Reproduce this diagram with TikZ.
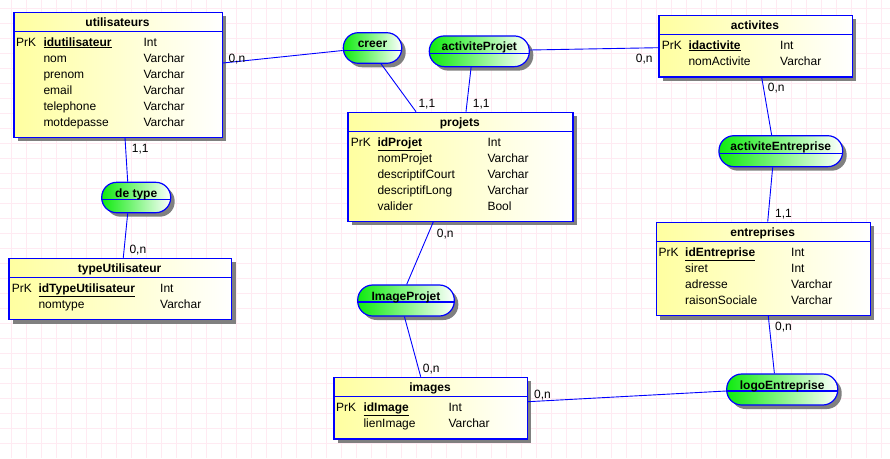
\documentclass[tikz,border=0pt]{standalone}
\usepackage{fontspec}
\setmainfont{Liberation Sans}
\usetikzlibrary{shadows,calc}
\definecolor{erblue}{RGB}{0,0,255}
\definecolor{gridpink}{RGB}{255,234,242}
\definecolor{ylw}{RGB}{255,255,160}
\definecolor{grn}{RGB}{15,235,15}
\definecolor{shd}{RGB}{128,128,128}
\tikzset{
  erbox/.style={draw=erblue, line width=1.2pt, left color=ylw, right color=white,
    anchor=north west, inner sep=0pt,
    drop shadow={shadow xshift=4pt, shadow yshift=-4pt, fill=shd, opacity=1}},
  assoc/.style={draw=erblue, line width=1.2pt, rounded corners=15pt, left color=grn,
    right color=white, inner sep=0pt,
    drop shadow={shadow xshift=4pt, shadow yshift=-4pt, fill=shd, opacity=1}},
  link/.style={draw=erblue, line width=0.9pt},
  sepline/.style={draw=erblue, line width=1.2pt},
  card/.style={anchor=base west, inner sep=0pt, font=\fontsize{12}{14}\selectfont},
  ttl/.style={anchor=base, inner sep=0pt, font=\bfseries\fontsize{12}{14}\selectfont},
  fld/.style={anchor=base west, inner sep=0pt, font=\fontsize{12}{14}\selectfont},
  asstxt/.style={anchor=base, inner sep=0pt, font=\bfseries\fontsize{12}{14}\selectfont},
}
\newcommand{\pk}[1]{\underline{\textbf{#1}}}
\begin{document}
\begin{tikzpicture}[x=1pt,y=-1pt]
\useasboundingbox (0,0) rectangle (890,458);
\fill[white] (0,0) rectangle (890,458);
% grid
\foreach \gx in {11.5,26.5,...,890} \draw[gridpink, line width=1pt] (\gx,0) -- (\gx,458);
\foreach \gy in {8.3,23.3,...,458} \draw[gridpink, line width=1pt] (0,\gy) -- (890,\gy);

% ---------- entities ----------
% utilisateurs
\node[erbox, minimum width=208.4pt, minimum height=125pt] (utilisateurs) at (13.3,11.7) {};
\draw[sepline] (13.3,31.7) -- (221.7,31.7);
\node[ttl] (utilisateurs-t) at (117.5,26.2) {utilisateurs};
\node[fld] (u-pk) at (16,46) {PrK};
\node[fld] (u-f1) at (43.3,46) {\pk{idutilisateur}};
\node[fld] (u-t1) at (143.3,46) {Int};
\node[fld] (u-f2) at (43.3,62) {nom};
\node[fld] (u-t2) at (143.3,62) {Varchar};
\node[fld] (u-f3) at (43.3,78) {prenom};
\node[fld] (u-t3) at (143.3,78) {Varchar};
\node[fld] (u-f4) at (43.3,94) {email};
\node[fld] (u-t4) at (143.3,94) {Varchar};
\node[fld] (u-f5) at (43.3,110) {telephone};
\node[fld] (u-t5) at (143.3,110) {Varchar};
\node[fld] (u-f6) at (43.3,126) {motdepasse};
\node[fld] (u-t6) at (143.3,126) {Varchar};

% activites
\node[erbox, minimum width=193.4pt, minimum height=61.6pt] (activites) at (658.3,14.7) {};
\draw[sepline] (658.3,34.7) -- (851.7,34.7);
\node[ttl] (activites-t) at (755,29.2) {activites};
\node[fld] (a-pk) at (661.7,49) {PrK};
\node[fld] (a-f1) at (688.3,49) {\pk{idactivite}};
\node[fld] (a-t1) at (780,49) {Int};
\node[fld] (a-f2) at (688.3,65) {nomActivite};
\node[fld] (a-t2) at (780,65) {Varchar};

% projets
\node[erbox, minimum width=225pt, minimum height=109pt] (projets) at (347.3,111.7) {};
\draw[sepline] (347.3,131.7) -- (572.3,131.7);
\node[ttl] (projets-t) at (459.8,126.2) {projets};
\node[fld] (p-pk) at (350.7,146) {PrK};
\node[fld] (p-f1) at (377.3,146) {\pk{idProjet}};
\node[fld] (p-t1) at (487.3,146) {Int};
\node[fld] (p-f2) at (377.3,162) {nomProjet};
\node[fld] (p-t2) at (487.3,162) {Varchar};
\node[fld] (p-f3) at (377.3,178) {descriptifCourt};
\node[fld] (p-t3) at (487.3,178) {Varchar};
\node[fld] (p-f4) at (377.3,194) {descriptifLong};
\node[fld] (p-t4) at (487.3,194) {Varchar};
\node[fld] (p-f5) at (377.3,210) {valider};
\node[fld] (p-t5) at (487.3,210) {Bool};

% typeUtilisateur
\node[erbox, minimum width=222.7pt, minimum height=61.3pt] (typeUtilisateur) at (8.3,257.7) {};
\draw[sepline] (8.3,277.7) -- (231,277.7);
\node[ttl] (typeUtilisateur-t) at (119.6,272.2) {typeUtilisateur};
\node[fld] (tu-pk) at (11.7,292) {PrK};
\node[fld] (tu-f1) at (38.3,292) {\pk{idTypeUtilisateur}};
\node[fld] (tu-t1) at (160,292) {Int};
\node[fld] (tu-f2) at (38.3,308) {nomtype};
\node[fld] (tu-t2) at (160,308) {Varchar};

% entreprises
\node[erbox, minimum width=214pt, minimum height=93.3pt] (entreprises) at (655.7,221.7) {};
\draw[sepline] (655.7,241.7) -- (869.7,241.7);
\node[ttl] (entreprises-t) at (762.7,236.2) {entreprises};
\node[fld] (e-pk) at (658.3,256) {PrK};
\node[fld] (e-f1) at (685,256) {\pk{idEntreprise}};
\node[fld] (e-t1) at (791,256) {Int};
\node[fld] (e-f2) at (685,272) {siret};
\node[fld] (e-t2) at (791,272) {Int};
\node[fld] (e-f3) at (685,288) {adresse};
\node[fld] (e-t3) at (791,288) {Varchar};
\node[fld] (e-f4) at (685,304) {raisonSociale};
\node[fld] (e-t4) at (791,304) {Varchar};

% images
\node[erbox, minimum width=193.4pt, minimum height=61.6pt] (images) at (333.3,376.7) {};
\draw[sepline] (333.3,396.7) -- (526.7,396.7);
\node[ttl] (images-t) at (430,391.2) {images};
\node[fld] (i-pk) at (336,411) {PrK};
\node[fld] (i-f1) at (363.3,411) {\pk{idImage}};
\node[fld] (i-t1) at (448.3,411) {Int};
\node[fld] (i-f2) at (363.3,427) {lienImage};
\node[fld] (i-t2) at (448.3,427) {Varchar};

% ---------- associations ----------
\node[assoc, minimum width=58.4pt, minimum height=30.6pt] (creer) at (372.5,48) {};
\draw[sepline] ($(creer.west)+(0.3,2.5)$) -- ($(creer.east)+(-0.3,2.5)$);
\node[asstxt] (creer-t) at (372.5,47.5) {creer};

\node[assoc, minimum width=100pt, minimum height=30.7pt] (activiteProjet) at (479.3,51.3) {};
\draw[sepline] ($(activiteProjet.west)+(0.3,2.5)$) -- ($(activiteProjet.east)+(-0.3,2.5)$);
\node[asstxt] (activiteProjet-t) at (479.3,50.8) {activiteProjet};

\node[assoc, minimum width=123.7pt, minimum height=31pt] (activiteEntreprise) at (780.8,151.2) {};
\draw[sepline] ($(activiteEntreprise.west)+(0.3,2)$) -- ($(activiteEntreprise.east)+(-0.3,2)$);
\node[asstxt] (activiteEntreprise-t) at (780.8,150.7) {activiteEntreprise};

\node[assoc, minimum width=69pt, minimum height=30.4pt] (detype) at (136.2,197.5) {};
\draw[sepline] ($(detype.west)+(0.3,2)$) -- ($(detype.east)+(-0.3,2)$);
\node[asstxt] (detype-t) at (136.2,197) {de type};

\node[assoc, minimum width=96.6pt, minimum height=31pt] (ImageProjet) at (406,300.5) {};
\draw[sepline] ($(ImageProjet.west)+(0.3,1.5)$) -- ($(ImageProjet.east)+(-0.3,1.5)$);
\node[asstxt] (ImageProjet-t) at (406,300) {ImageProjet};

\node[assoc, minimum width=111pt, minimum height=31pt] (logoEntreprise) at (782.2,389.5) {};
\draw[sepline] ($(logoEntreprise.west)+(0.3,1.5)$) -- ($(logoEntreprise.east)+(-0.3,1.5)$);
\node[asstxt] (logoEntreprise-t) at (782.2,389) {logoEntreprise};

% ---------- connectors ----------
\draw[link] ($(utilisateurs.north east)+(0,51.3)$) -- ($(creer.west)+(0,2.5)$);
\draw[link] ($(creer.south west)+(38.4,0)$) -- ($(projets.north west)+(68.7,0)$);
\draw[link] ($(activiteProjet.south west)+(42.4,0)$) -- ($(projets.north west)+(118.7,0)$);
\draw[link] ($(activiteProjet.east)+(0,-1.3)$) -- ($(activites.north west)+(0,33)$);
\draw[link] ($(activites.south west)+(103.4,0)$) -- ($(activiteEntreprise.north west)+(53.3,0)$);
\draw[link] ($(activiteEntreprise.south west)+(54.3,0)$) -- ($(entreprises.north west)+(112,0)$);
\draw[link] ($(utilisateurs.south west)+(111.7,0)$) -- ($(detype.north west)+(26.6,0)$);
\draw[link] ($(detype.south west)+(26.6,0)$) -- ($(typeUtilisateur.north west)+(115,0)$);
\draw[link] ($(projets.south west)+(86,0)$) -- ($(ImageProjet.north west)+(49.6,0)$);
\draw[link] ($(ImageProjet.south west)+(47.3,0)$) -- ($(images.north west)+(87.4,0)$);
\draw[link] ($(entreprises.south west)+(112.6,0)$) -- ($(logoEntreprise.north west)+(48.3,0)$);
\draw[link] ($(logoEntreprise.west)+(0,1.5)$) -- ($(images.north east)+(0,25)$);

% ---------- cardinalities ----------
\node[card] (c1) at (228.3,62) {0,n};
\node[card] (c2) at (418.3,107) {1,1};
\node[card] (c3) at (472.7,107) {1,1};
\node[card] (c4) at (635.7,62) {0,n};
\node[card] (c5) at (767.7,91.3) {0,n};
\node[card] (c6) at (775,217) {1,1};
\node[card] (c7) at (131.7,152) {1,1};
\node[card] (c8) at (129.3,253.6) {0,n};
\node[card] (c9) at (436.7,237) {0,n};
\node[card] (c10) at (422.7,372) {0,n};
\node[card] (c11) at (775,330.3) {0,n};
\node[card] (c12) at (534,398.6) {0,n};
\end{tikzpicture}
\end{document}
